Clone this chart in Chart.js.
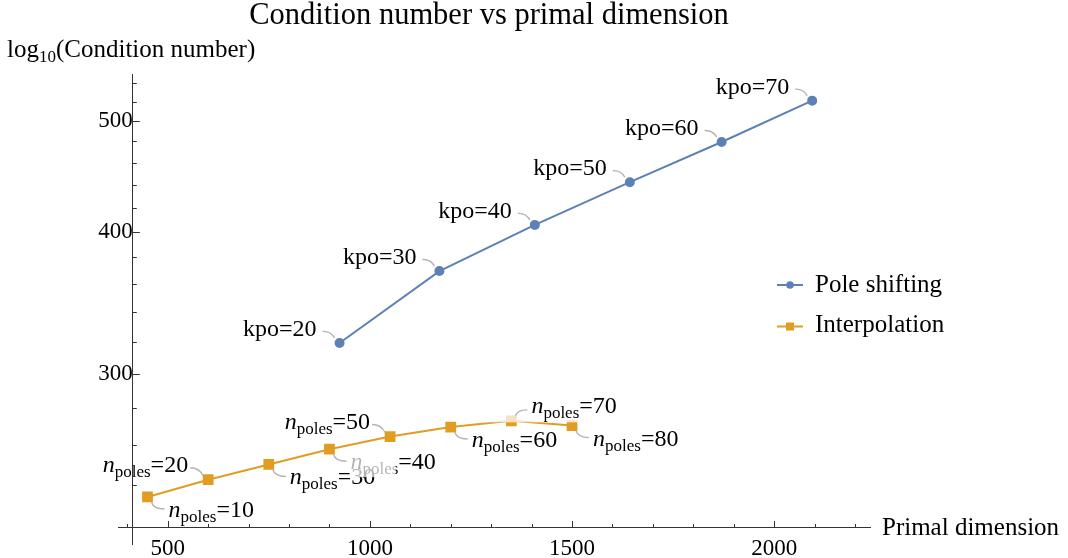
<!DOCTYPE html>
<html>
<head>
<meta charset="utf-8">
<script src="https://cdn.jsdelivr.net/npm/chart.js@4.4.1/dist/chart.umd.min.js"></script>
<style>
html, body { margin: 0; padding: 0; background: #fff; }
canvas { display: block; }
</style>
</head>
<body>
<canvas id="myChart" width="1068" height="558"></canvas>
<script>
// pole shifting series
var kpo = [20, 30, 40, 50, 60, 70];
var primal_pole = [925, 1172, 1408, 1643, 1870, 2094];
var cond_pole = [319.6, 369.5, 405.6, 442.1, 479.5, 521.2];
// interpolation series
var n_poles = [10, 20, 30, 40, 50, 60, 70, 80];
var primal_interp = [450, 600, 750, 900, 1050, 1200, 1350, 1500];
var cond_interp = [234.2, 242.5, 250.1, 257.9, 264.6, 269.7, 273.1, 270.5];
// axis ticks
var x_ticks = [500, 1000, 1500, 2000];
var y_ticks = [300, 400, 500];

var SERIF = '"Liberation Serif", "Times New Roman", serif';
var BLUE = 'rgb(94,129,181)';
var ORANGE = 'rgb(225,156,36)';
var AXIS = '#333';

// where each interpolation label sits relative to its point
var interp_place = ['below', 'above', 'below', 'below', 'above', 'below', 'aboveRight', 'below'];

function fnt(size, italic) {
    return (italic ? 'italic ' : '') + size + 'px ' + SERIF;
}

function draw_parts(ctx, parts, x, y, align) {
    let w = 0;
    parts.forEach(p => { ctx.font = fnt(p.size, p.italic); w += ctx.measureText(p.text).width; });
    let cx = align == 'right' ? x - w : x;
    parts.forEach(p => {
        ctx.font = fnt(p.size, p.italic);
        ctx.fillText(p.text, cx, y + (p.dy || 0));
        cx += ctx.measureText(p.text).width;
    });
}

function leader(ctx, x0, y0, cx, cy, x1, y1) {
    ctx.beginPath();
    ctx.moveTo(x0, y0);
    ctx.quadraticCurveTo(cx, cy, x1, y1);
    ctx.stroke();
}

var decor = {
    id: 'decor',
    afterDraw(chart) {
        let ctx = chart.ctx;
        let xs = chart.scales.x, ys = chart.scales.y;
        let ax = xs.getPixelForValue(413.6);
        let ay = ys.getPixelForValue(220);
        ctx.save();
        // ticks (pointing inward like the original)
        ctx.strokeStyle = AXIS;
        ctx.lineWidth = 1;
        for (let v = 400; v <= 2200; v += 100) {
            let px = Math.round(xs.getPixelForValue(v)) + 0.5;
            let len = v % 500 == 0 ? 7 : 4;
            ctx.beginPath(); ctx.moveTo(px, ay); ctx.lineTo(px, ay - len); ctx.stroke();
        }
        for (let v = 240; v <= 540; v += 20) {
            let py = Math.round(ys.getPixelForValue(v)) + 0.5;
            let len = v % 100 == 0 ? 7 : 4;
            ctx.beginPath(); ctx.moveTo(ax, py); ctx.lineTo(ax + len, py); ctx.stroke();
        }

        ctx.fillStyle = '#000';
        ctx.textBaseline = 'alphabetic';
        ctx.textAlign = 'left';
        // title
        ctx.font = fnt(30.5);
        let title = 'Condition number vs primal dimension';
        ctx.fillText(title, 489 - ctx.measureText(title).width / 2, 24);
        // axis labels
        draw_parts(ctx, [
            { text: 'log', size: 25 },
            { text: '10', size: 17, dy: 5 },
            { text: '(Condition number)', size: 25 },
        ], 7, 57, 'left');
        ctx.font = fnt(25);
        ctx.fillText('Primal dimension', 882, 535);

        // legend
        ctx.lineWidth = 2;
        ctx.strokeStyle = BLUE; ctx.fillStyle = BLUE;
        ctx.beginPath(); ctx.moveTo(777, 285); ctx.lineTo(803, 285); ctx.stroke();
        ctx.beginPath(); ctx.arc(790, 285, 3.8, 0, Math.PI * 2); ctx.fill();
        ctx.strokeStyle = ORANGE; ctx.fillStyle = ORANGE;
        ctx.beginPath(); ctx.moveTo(777, 326.5); ctx.lineTo(803, 326.5); ctx.stroke();
        ctx.fillRect(786, 322.5, 8, 8);
        ctx.fillStyle = '#000';
        ctx.font = fnt(25);
        ctx.fillText('Pole shifting', 815, 291.5);
        ctx.fillText('Interpolation', 815, 332);

        // callout labels
        ctx.strokeStyle = '#b4b4b4';
        ctx.lineWidth = 1.4;
        for (let i = 0; i < kpo.length; i++) {
            let px = xs.getPixelForValue(primal_pole[i]);
            let py = ys.getPixelForValue(cond_pole[i]);
            leader(ctx, px - 17, py - 11.5, px - 9, py - 12, px - 5, py - 5);
            draw_parts(ctx, [{ text: 'kpo=' + kpo[i], size: 24 }], px - 23, py - 7, 'right');
        }
        for (let i = 0; i < n_poles.length; i++) {
            let px = xs.getPixelForValue(primal_interp[i]);
            let py = ys.getPixelForValue(cond_interp[i]);
            let parts = [
                { text: 'n', size: 24, italic: true },
                { text: 'poles', size: 17, dy: 5 },
                { text: '=' + n_poles[i], size: 24 },
            ];
            let place = interp_place[i];
            if (place == 'above') {
                leader(ctx, px - 18, py - 12, px - 9, py - 12, px - 5, py - 4);
                draw_parts(ctx, parts, px - 20, py - 8, 'right');
            } else if (place == 'aboveRight') {
                // translucent label backdrop washes out the line below it
                ctx.fillStyle = 'rgba(255,255,255,0.72)';
                ctx.fillRect(px - 45, py - 30, 160, 31.5);
                ctx.fillStyle = '#000';
                leader(ctx, px + 4, py - 5, px + 6, py - 11, px + 16, py - 11);
                draw_parts(ctx, parts, px + 20, py - 8, 'left');
            } else {
                leader(ctx, px + 4, py + 5, px + 6, py + 12, px + 17, py + 12);
                draw_parts(ctx, parts, px + 21, py + 20, 'left');
                if (i == 3) {
                    ctx.fillStyle = 'rgba(255,255,255,0.7)';
                    ctx.fillRect(px + 20, py + 3, 46, 25);
                    ctx.fillStyle = '#000';
                }
            }
        }
        ctx.restore();
    }
};

function tick_list(vals) {
    return function (scale) {
        scale.ticks = vals.map(v => ({ value: v }));
    };
}

function draw_plot() {
    var ctx = document.getElementById('myChart');
    new Chart(ctx, {
        type: 'scatter',
        data: {
            datasets: [
                {
                    label: 'Pole shifting',
                    data: primal_pole.map((x, i) => ({ x: x, y: cond_pole[i] })),
                    borderColor: BLUE,
                    backgroundColor: BLUE,
                    borderWidth: 2,
                    pointRadius: 4,
                    pointStyle: 'circle',
                    showLine: true,
                },
                {
                    label: 'Interpolation',
                    data: primal_interp.map((x, i) => ({ x: x, y: cond_interp[i] })),
                    borderColor: ORANGE,
                    backgroundColor: ORANGE,
                    borderWidth: 2,
                    pointRadius: 6.2,
                    pointStyle: 'rect',
                    showLine: true,
                },
            ],
        },
        options: {
            responsive: false,
            animation: false,
            devicePixelRatio: 1,
            layout: { padding: { left: 118, right: 198, top: 74, bottom: 14 } },
            scales: {
                x: {
                    type: 'linear',
                    min: 377,
                    max: 2237,
                    bounds: 'data',
                    position: { y: 220 },
                    afterBuildTicks: tick_list(x_ticks),
                    grid: { display: false, drawTicks: false },
                    border: { display: true, color: AXIS, width: 1 },
                    ticks: {
                        padding: 7,
                        color: '#000',
                        font: { family: SERIF, size: 23 },
                        callback: v => String(v),
                    },
                },
                y: {
                    type: 'logarithmic',
                    min: 213,
                    max: 550,
                    bounds: 'data',
                    position: { x: 413.6 },
                    afterBuildTicks: tick_list(y_ticks),
                    grid: { display: false, drawTicks: false },
                    border: { display: true, color: AXIS, width: 1 },
                    ticks: {
                        padding: 5,
                        color: '#000',
                        // small line height keeps the tick labels from padding the plot area
                        font: { family: SERIF, size: 23, lineHeight: 0.5 },
                        callback: v => String(v),
                    },
                },
            },
            plugins: {
                legend: { display: false },
                title: { display: false },
                tooltip: { enabled: false },
            },
        },
        plugins: [decor],
    });
}
draw_plot();
</script>
</body>
</html>
